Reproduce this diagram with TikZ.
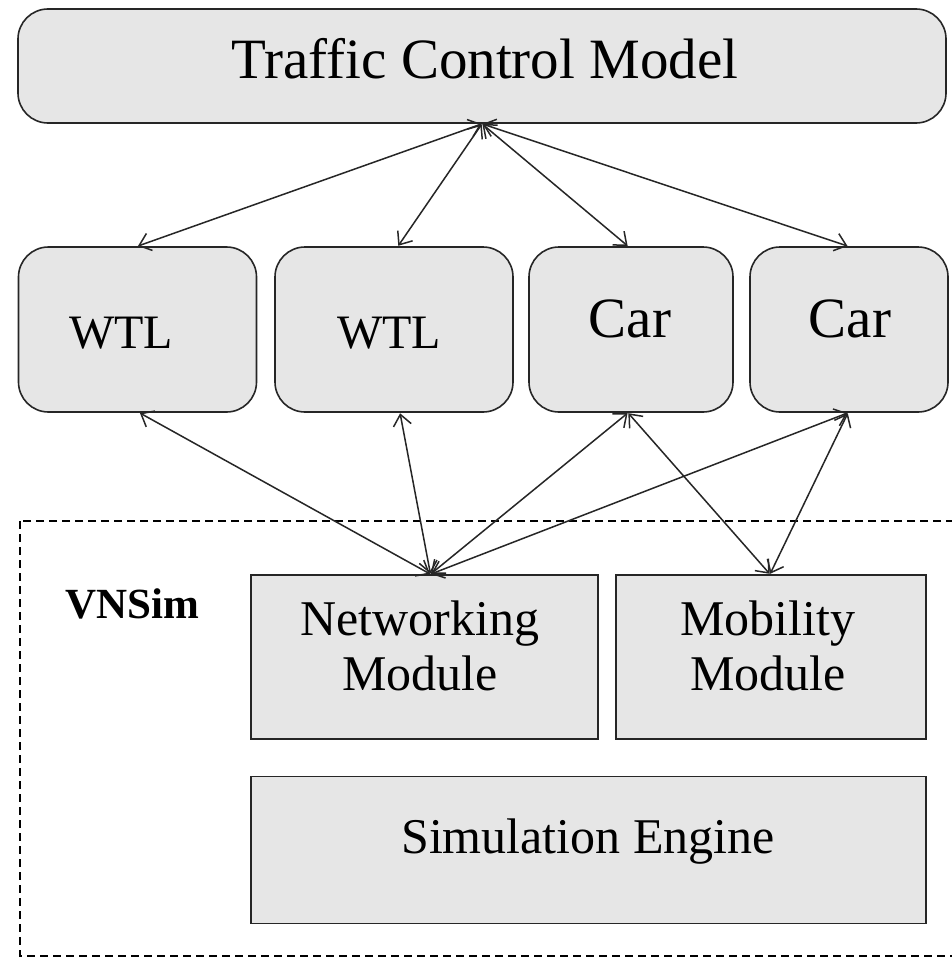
\documentclass[tikz,border=0pt]{standalone}
\usepackage{fontspec}
\setmainfont{Liberation Serif}
\usetikzlibrary{arrows.meta,calc}
\definecolor{boxgray}{HTML}{E6E6E6}
\definecolor{edgegray}{HTML}{262626}
\tikzset{
  rbox/.style={draw=edgegray, line width=1.6pt, fill=boxgray, rounded corners=30pt, inner sep=0pt},
  sbox/.style={draw=edgegray, line width=1.6pt, fill=boxgray, inner sep=0pt},
  lbl/.style={inner sep=0pt, anchor=base, text=black},
  link/.style={draw=edgegray, line width=1.5pt, {Straight Barb[length=11pt,width=18pt,line width=1.5pt]}-{Straight Barb[length=11pt,width=18pt,line width=1.5pt]}, shorten <=0.5pt, shorten >=0.5pt},
  vns/.style={draw=black, line width=1.3pt, dash pattern=on 8pt off 5pt}
}
\begin{document}
\begin{tikzpicture}[x=1pt,y=-1pt]
\clip (0,0) rectangle (952,958);
\fill[white] (0,0) rectangle (952,958);
% dashed VNSim frame
\draw[vns] (20,521) rectangle (975,956);
% boxes
\node[rbox, minimum width=928pt, minimum height=114pt] (tcm) at (482,66) {};
\node[rbox, minimum width=238pt, minimum height=165pt] (wtla) at (137.5,329.5) {};
\node[rbox, minimum width=238pt, minimum height=165pt] (wtlb) at (394,329.5) {};
\node[rbox, minimum width=204pt, minimum height=165pt] (cara) at (631,329.5) {};
\node[rbox, minimum width=198pt, minimum height=165pt] (carb) at (849,329.5) {};
\node[sbox, minimum width=347pt, minimum height=164pt] (net) at (424.5,657) {};
\node[sbox, minimum width=310pt, minimum height=164pt] (mob) at (771,657) {};
\node[sbox, minimum width=675pt, minimum height=147pt] (sim) at (588.5,850) {};
% texts
\node[lbl, font=\fontsize{57}{57}\selectfont] (tcmt) at (485,78) {Traffic Control Model};
\node[lbl, font=\fontsize{48}{48}\selectfont] (wtlat) at (121,348) {WTL};
\node[lbl, font=\fontsize{48}{48}\selectfont] (wtlbt) at (389,348) {WTL};
\node[lbl, font=\fontsize{57}{57}\selectfont] (carat) at (630,337) {Car};
\node[lbl, font=\fontsize{57}{57}\selectfont] (carbt) at (850,337) {Car};
\node[inner sep=0pt, align=center, font=\fontsize{50}{55}\selectfont] (nett) at (420,645.5) {Networking\\Module};
\node[inner sep=0pt, align=center, font=\fontsize{50}{55}\selectfont] (mobt) at (768,645.5) {Mobility\\Module};
\node[lbl, font=\fontsize{50}{50}\selectfont] (simt) at (588,853) {Simulation Engine};
\node[lbl, font=\fontsize{43}{43}\selectfont\bfseries] (vnst) at (132,618) {VNSim};
% connectors
\draw[link] (tcm.south) -- (wtla.north);
\draw[link] (tcm.south) -- ([xshift=4pt]wtlb.north);
\draw[link] (tcm.south) -- ([xshift=-3pt]cara.north);
\draw[link] (tcm.south) -- ([xshift=-1pt]carb.north);
\draw[link] ([xshift=2pt]wtla.south) -- ([xshift=6pt]net.north);
\draw[link] ([xshift=6pt]wtlb.south) -- ([xshift=6pt]net.north);
\draw[link] ([xshift=-3pt]cara.south) -- ([xshift=6pt]net.north);
\draw[link] ([xshift=-1pt]carb.south) -- ([xshift=6pt]net.north);
\draw[link] ([xshift=-3pt]cara.south) -- ([xshift=-1pt]mob.north);
\draw[link] ([xshift=-1pt]carb.south) -- ([xshift=-1pt]mob.north);
\end{tikzpicture}
\end{document}
